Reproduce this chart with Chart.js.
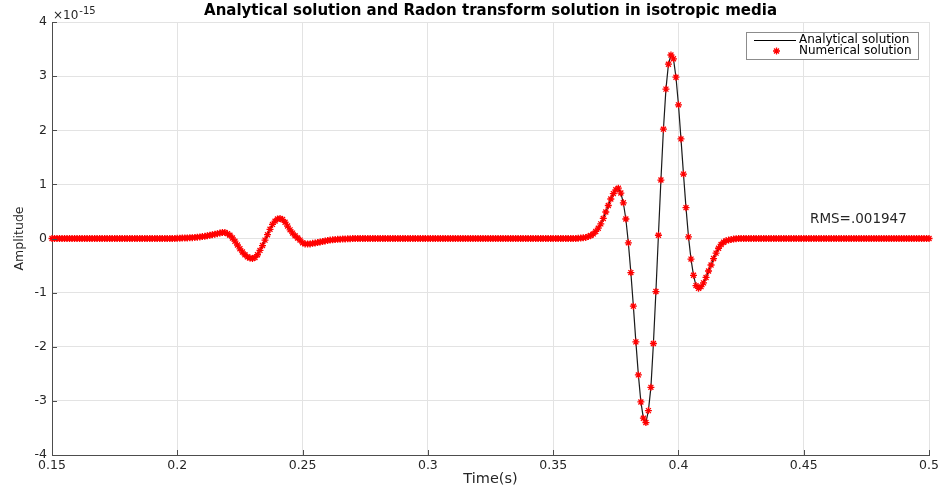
<!DOCTYPE html>
<html>
<head>
<meta charset="utf-8">
<title>Analytical solution and Radon transform solution in isotropic media</title>
<script src="https://cdn.jsdelivr.net/npm/chart.js@4.4.1/dist/chart.umd.min.js"></script>
<style>
  html, body { margin: 0; padding: 0; background: #fff; }
  #wrap { width: 942px; height: 489px; }
</style>
</head>
<body>
<div id="wrap"><canvas id="chart" width="942" height="489"></canvas></div>
<script>
"use strict";

// sampling of the traces, seconds
const startTime = 0.15;
const timeStep = 0.001;

// amplitude in units of 1e-15, one value per sample, 0.150 s .. 0.500 s
const amplitude = [
    0, 0, 0, 0, 0, 0, 0, 0, 0, 0,                                        // 0.15
    0, 0, 0, 0, 0, 0, 0, 0, 0, 0,                                        // 0.16
    0, 0, 0, 0, 0, 0, 0, 0, 0, 0,                                        // 0.17
    0, 0, 0, 0, 0, 0, 0, 0, 0, 0,                                        // 0.18
    0, 0, 0, 0, 0, 0, 0, 0, 0, 0,                                        // 0.19
    0.005, 0.005, 0.01, 0.01, 0.01, 0.015, 0.015, 0.02, 0.025, 0.03,     // 0.20
    0.035, 0.04, 0.05, 0.06, 0.07, 0.08, 0.09, 0.10, 0.11, 0.11,         // 0.21
    0.09, 0.06, 0.01, -0.05, -0.12, -0.19, -0.25, -0.30, -0.34, -0.36,   // 0.22
    -0.37, -0.35, -0.30, -0.22, -0.13, -0.03, 0.07, 0.17, 0.26, 0.32,    // 0.23
    0.36, 0.37, 0.35, 0.30, 0.23, 0.16, 0.10, 0.05, 0.01, -0.03,         // 0.24
    -0.08, -0.10, -0.10, -0.10, -0.09, -0.085, -0.075, -0.065, -0.055, -0.045, // 0.25
    -0.035, -0.03, -0.025, -0.02, -0.015, -0.012, -0.01, -0.008, -0.006, -0.004, // 0.26
    -0.002, 0, 0, 0, 0, 0, 0, 0, 0, 0,                                   // 0.27
    0, 0, 0, 0, 0, 0, 0, 0, 0, 0,                                        // 0.28
    0, 0, 0, 0, 0, 0, 0, 0, 0, 0,                                        // 0.29
    0, 0, 0, 0, 0, 0, 0, 0, 0, 0,                                        // 0.30
    0, 0, 0, 0, 0, 0, 0, 0, 0, 0,                                        // 0.31
    0, 0, 0, 0, 0, 0, 0, 0, 0, 0,                                        // 0.32
    0, 0, 0, 0, 0, 0, 0, 0, 0, 0,                                        // 0.33
    0, 0, 0, 0, 0, 0, 0, 0, 0, 0,                                        // 0.34
    0, 0, 0, 0, 0, 0, 0, 0, 0, 0,                                        // 0.35
    0.005, 0.008, 0.012, 0.02, 0.035, 0.055, 0.085, 0.13, 0.19, 0.27,    // 0.36
    0.37, 0.49, 0.61, 0.73, 0.83, 0.90, 0.93, 0.84, 0.66, 0.36,          // 0.37
    -0.08, -0.63, -1.25, -1.91, -2.52, -3.02, -3.32, -3.40, -3.18, -2.75, // 0.38
    -1.94, -0.98, 0.06, 1.08, 2.02, 2.76, 3.22, 3.39, 3.32, 2.98,        // 0.39
    2.47, 1.84, 1.19, 0.57, 0.03, -0.38, -0.68, -0.87, -0.92, -0.89,     // 0.40
    -0.82, -0.72, -0.60, -0.49, -0.37, -0.27, -0.18, -0.11, -0.07, -0.04, // 0.41
    -0.03, -0.02, -0.01, -0.005, 0, 0, 0, 0, 0, 0,                       // 0.42
    0, 0, 0, 0, 0, 0, 0, 0, 0, 0,                                        // 0.43
    0, 0, 0, 0, 0, 0, 0, 0, 0, 0,                                        // 0.44
    0, 0, 0, 0, 0, 0, 0, 0, 0, 0,                                        // 0.45
    0, 0, 0, 0, 0, 0, 0, 0, 0, 0,                                        // 0.46
    0, 0, 0, 0, 0, 0, 0, 0, 0, 0,                                        // 0.47
    0, 0, 0, 0, 0, 0, 0, 0, 0, 0,                                        // 0.48
    0, 0, 0, 0, 0, 0, 0, 0, 0, 0,                                        // 0.49
    0                                                                    // 0.50
];

const seriesNames = ['Analytical solution', 'Numerical solution'];
const xTickValues = [0.15, 0.2, 0.25, 0.3, 0.35, 0.4, 0.45, 0.5];
const xTickLabels = ['0.15', '0.2', '0.25', '0.3', '0.35', '0.4', '0.45', '0.5'];
const yTickValues = [-4, -3, -2, -1, 0, 1, 2, 3, 4];
const yTickLabels = ['-4', '-3', '-2', '-1', '0', '1', '2', '3', '4'];
const exponentLabel = '-15';
const rmsLabel = 'RMS=.001947';

const axisColor = '#4d4d4d';
const gridColor = '#e3e3e3';
const textColor = '#262626';
const markerColor = '#ff0000';
const fontFamily = '"DejaVu Sans", sans-serif';

const points = amplitude.map(function (v, i) {
    return {x: startTime + i * timeStep, y: v};
});

// axes extras: inward ticks, exponent, RMS note and the legend box
const decorations = {
    id: 'decorations',
    afterDraw: function (chart) {
        const ctx = chart.ctx;
        const area = chart.chartArea;
        const xs = chart.scales.x;
        const ys = chart.scales.y;
        ctx.save();

        ctx.strokeStyle = axisColor;
        ctx.lineWidth = 1;
        ctx.beginPath();
        xTickValues.forEach(function (v) {
            const px = Math.round(xs.getPixelForValue(v)) + 0.5;
            ctx.moveTo(px, area.bottom);
            ctx.lineTo(px, area.bottom - 5);
        });
        yTickValues.forEach(function (v) {
            const py = Math.round(ys.getPixelForValue(v)) + 0.5;
            ctx.moveTo(area.left, py);
            ctx.lineTo(area.left + 5, py);
        });
        ctx.stroke();

        // x10^-15
        ctx.fillStyle = textColor;
        ctx.textBaseline = 'alphabetic';
        ctx.textAlign = 'left';
        ctx.font = '12px ' + fontFamily;
        ctx.fillText('\u00d710', area.left + 1, 19);
        const w = ctx.measureText('\u00d710').width;
        ctx.font = '10px ' + fontFamily;
        ctx.fillText(exponentLabel, area.left + 1 + w + 1, 14);

        // RMS note
        ctx.font = '13.5px ' + fontFamily;
        ctx.textBaseline = 'middle';
        ctx.fillText(rmsLabel, 810, 219);

        // legend
        const lx = 746.5, ly = 32.5, lw = 172, lh = 27;
        ctx.fillStyle = '#fff';
        ctx.fillRect(lx, ly, lw, lh);
        ctx.strokeStyle = '#8c8c8c';
        ctx.strokeRect(lx, ly, lw, lh);

        ctx.strokeStyle = '#000';
        ctx.beginPath();
        ctx.moveTo(754, 40.5);
        ctx.lineTo(796, 40.5);
        ctx.stroke();

        ctx.strokeStyle = markerColor;
        ctx.lineWidth = 1.3;
        Chart.helpers.drawPoint(ctx, {pointStyle: 'star', radius: 3.5, borderWidth: 1.3}, 776.5, 51);

        ctx.fillStyle = '#000';
        ctx.font = '12px ' + fontFamily;
        ctx.textBaseline = 'middle';
        ctx.textAlign = 'left';
        ctx.fillText(seriesNames[0], 799, 40);
        ctx.fillText(seriesNames[1], 799, 51);
        ctx.restore();
    }
};

const ctx = document.getElementById('chart').getContext('2d');
new Chart(ctx, {
    type: 'line',
    data: {
        datasets: [{
            label: seriesNames[1],
            data: points,
            showLine: false,
            pointStyle: 'star',
            pointRadius: 3.5,
            pointBorderWidth: 1.3,
            pointBorderColor: markerColor,
            pointBackgroundColor: markerColor,
            clip: false,
            order: 0
        }, {
            label: seriesNames[0],
            data: points,
            borderColor: '#1a1a1a',
            borderWidth: 1.2,
            pointRadius: 0,
            tension: 0,
            order: 1
        }]
    },
    options: {
        responsive: false,
        devicePixelRatio: 1,
        animation: false,
        parsing: false,
        layout: {padding: {top: 0, right: 12, bottom: 0, left: 0}},
        plugins: {
            legend: {display: false},
            tooltip: {enabled: false},
            title: {
                display: true,
                fullSize: false,
                text: 'Analytical solution and Radon transform solution in isotropic media',
                color: '#000',
                font: {family: fontFamily, size: 15, weight: 'bold'},
                padding: {top: 2, bottom: 2}
            }
        },
        scales: {
            x: {
                type: 'linear',
                min: 0.15,
                max: 0.5,
                afterBuildTicks: function (scale) {
                    scale.ticks = xTickValues.map(function (v) { return {value: v}; });
                },
                afterFit: function (scale) { scale.height = 34; },
                ticks: {
                    color: textColor,
                    font: {family: fontFamily, size: 12.5},
                    padding: 3,
                    maxRotation: 0,
                    callback: function (value, index) { return xTickLabels[index]; }
                },
                grid: {color: gridColor, drawTicks: false},
                border: {display: true, color: axisColor},
                title: {
                    display: true,
                    text: 'Time(s)',
                    color: textColor,
                    font: {family: fontFamily, size: 14.5},
                    padding: {top: 0, bottom: 1}
                }
            },
            y: {
                type: 'linear',
                min: -4,
                max: 4,
                afterBuildTicks: function (scale) {
                    scale.ticks = yTickValues.map(function (v) { return {value: v}; });
                },
                afterFit: function (scale) { scale.width = 52; },
                ticks: {
                    color: textColor,
                    font: {family: fontFamily, size: 12.5},
                    padding: 5,
                    callback: function (value, index) { return yTickLabels[index]; }
                },
                grid: {color: gridColor, drawTicks: false},
                border: {display: true, color: axisColor},
                title: {
                    display: true,
                    text: 'Amplitude',
                    color: textColor,
                    font: {family: fontFamily, size: 12.5},
                    padding: {top: 12, bottom: 0}
                }
            }
        }
    },
    plugins: [decorations]
});
</script>
</body>
</html>
